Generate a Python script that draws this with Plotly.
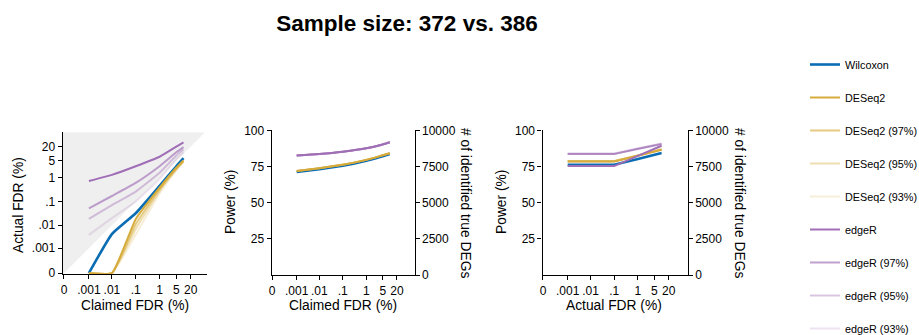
import numpy as np
import plotly.graph_objects as go

# ---------------- data (values in %) ----------------
claimed_fdr = [0.001, 0.01, 0.1, 1, 5, 10]

actual_wilcoxon = [0, 0.0042, 0.032, 0.45, 3.0, 6.5]
actual_deseq2 = [0, 0, 0.018, 0.38, 2.6, 5.3]
actual_deseq2_97 = [0, 0, 0.011, 0.33, 2.4, 5.0]
actual_deseq2_95 = [0, 0, 0.007, 0.28, 2.2, 4.8]
actual_deseq2_93 = [0, 0, 0.004, 0.22, 2.0, 4.6]
actual_edger = [0.72, 1.3, 3.0, 7.5, 20, 30]
actual_edger_97 = [0.052, 0.17, 0.6, 3.0, 11.5, 19]
actual_edger_95 = [0.0185, 0.07, 0.26, 1.6, 8.5, 15]
actual_edger_93 = [0.0039, 0.02, 0.1, 0.9, 6, 11.5]

power_wilcoxon = [71.3, 73.2, 75.5, 79.0, 82.2, 83.6]
power_deseq2 = [72.0, 73.9, 76.2, 79.6, 82.8, 84.2]
power_deseq2_97 = [72.0, 73.9, 76.2, 79.6, 82.8, 84.2]
power_deseq2_95 = [72.0, 73.9, 76.2, 79.6, 82.8, 84.2]
power_deseq2_93 = [72.0, 73.9, 76.2, 79.6, 82.8, 84.2]
power_edger = [82.6, 83.7, 85.3, 87.6, 90.3, 91.8]
power_edger_97 = [82.6, 83.7, 85.3, 87.6, 90.3, 91.8]
power_edger_95 = [82.6, 83.7, 85.3, 87.6, 90.3, 91.8]
power_edger_93 = [82.6, 83.7, 85.3, 87.6, 90.3, 91.8]

actual_fdr_x = [0.001, 0.01, 0.1, 1, 10]
pa_wilcoxon = [76.2, 76.2, 76.2, 80.2, 84.3]
pa_deseq2 = [78.5, 78.5, 78.5, 82.5, 86.6]
pa_deseq2_97 = [78.6, 78.6, 78.6, 82.6, 86.8]
pa_deseq2_95 = [78.7, 78.7, 78.7, 82.7, 87.0]
pa_deseq2_93 = [78.8, 78.8, 78.8, 82.8, 87.2]
pa_edger = [75.3, 75.3, 75.3, 82.4, 89.4]
pa_edger_97 = [83.6, 83.6, 83.6, 87.2, 90.5]
pa_edger_95 = [83.8, 83.8, 83.8, 87.4, 90.8]
pa_edger_93 = [84.0, 84.0, 84.0, 87.6, 91.0]

fdr_tick_values = [0, 0.001, 0.01, 0.1, 1, 5, 20]
fdr_tick_labels = ["0", ".001", ".01", ".1", "1", "5", "20"]
power_ticks = [25, 50, 75, 100]
deg_ticks = [0, 2500, 5000, 7500, 10000]

method_names = ["Wilcoxon", "DESeq2", "DESeq2 (97%)", "DESeq2 (95%)", "DESeq2 (93%)",
                "edgeR", "edgeR (97%)", "edgeR (95%)", "edgeR (93%)"]

# ---------------- styling ----------------
W, H = 919, 335
FONT = "Liberation Sans, Arial, Helvetica, sans-serif"
BLUE = (10, 109, 180)
GOLD = (214, 172, 60)
PURPLE = (160, 110, 182)

def rgba(c, a):
    return "rgba(%d,%d,%d,%.2f)" % (c[0], c[1], c[2], a)

styles = [
    (rgba(BLUE, 1.0), 2.6),
    (rgba(GOLD, 1.0), 2.0),
    (rgba(GOLD, 0.65), 2.0),
    (rgba(GOLD, 0.40), 2.0),
    (rgba(GOLD, 0.20), 2.0),
    (rgba(PURPLE, 1.0), 2.0),
    (rgba(PURPLE, 0.65), 2.0),
    (rgba(PURPLE, 0.40), 2.0),
    (rgba(PURPLE, 0.20), 2.0),
]

OFFSET = 0.0001  # pseudo-count of the log-like FDR scale


def tr(v):
    return np.log10(np.asarray(v, dtype=float) + OFFSET)


def fx(p):
    return p / W


def fy(p):
    return 1 - p / H


panel1 = [actual_wilcoxon, actual_deseq2, actual_deseq2_97, actual_deseq2_95, actual_deseq2_93,
          actual_edger, actual_edger_97, actual_edger_95, actual_edger_93]
panel2 = [power_wilcoxon, power_deseq2, power_deseq2_97, power_deseq2_95, power_deseq2_93,
          power_edger, power_edger_97, power_edger_95, power_edger_93]
panel3 = [pa_wilcoxon, pa_deseq2, pa_deseq2_97, pa_deseq2_95, pa_deseq2_93,
          pa_edger, pa_edger_97, pa_edger_95, pa_edger_93]

X1_RANGE = [-4.054, 1.97]
Y1_RANGE = [-4.05, 1.90]

fig = go.Figure()

# grey region where actual FDR exceeds claimed FDR (above the diagonal)
fig.add_trace(go.Scatter(
    x=[X1_RANGE[0], X1_RANGE[0], Y1_RANGE[1], X1_RANGE[0]],
    y=[X1_RANGE[0], Y1_RANGE[1], Y1_RANGE[1], X1_RANGE[0]],
    mode="lines", fill="toself", fillcolor="#EFEFEF",
    line=dict(width=0, color="#EFEFEF"), hoverinfo="skip", showlegend=False,
    xaxis="x", yaxis="y"))

for i, name in enumerate(method_names):
    color, width = styles[i]
    fig.add_trace(go.Scatter(
        x=tr(claimed_fdr), y=tr(panel1[i]), mode="lines", name=name,
        line=dict(color=color, width=width, shape="spline", smoothing=0.4),
        legendgroup=name, showlegend=True, xaxis="x", yaxis="y"))
    fig.add_trace(go.Scatter(
        x=tr(claimed_fdr), y=panel2[i], mode="lines", name=name,
        line=dict(color=color, width=width, shape="spline", smoothing=0.6),
        legendgroup=name, showlegend=False, xaxis="x2", yaxis="y2"))
    fig.add_trace(go.Scatter(
        x=tr(actual_fdr_x), y=panel3[i], mode="lines", name=name,
        line=dict(color=color, width=width),
        legendgroup=name, showlegend=False, xaxis="x3", yaxis="y3"))

# invisible anchors so the secondary (# of DEGs) axes are drawn
for xa, ya in (("x2", "y4"), ("x3", "y5")):
    fig.add_trace(go.Scatter(x=tr([0.001]), y=[deg_ticks[0]], mode="markers",
                             marker=dict(opacity=0, size=1), hoverinfo="skip",
                             showlegend=False, xaxis=xa, yaxis=ya))

axis_common = dict(showline=True, linecolor="black", linewidth=1.2, ticks="outside",
                   ticklen=4, tickwidth=1.2, tickcolor="black", showgrid=False,
                   zeroline=False, tickfont=dict(size=12, color="black", family=FONT))

fdr_axis = dict(tickmode="array", tickvals=tr(fdr_tick_values).tolist(), ticktext=fdr_tick_labels)
deg_axis = dict(tickmode="array", tickvals=deg_ticks, ticktext=[str(v) for v in deg_ticks])

fig.update_layout(
    width=W, height=H,
    margin=dict(l=0, r=0, t=0, b=0, autoexpand=False),
    paper_bgcolor="white", plot_bgcolor="white",
    font=dict(family=FONT, color="black"),
    title=dict(text="<b>Sample size: 372 vs. 386</b>", x=407 / W, xanchor="center",
               y=fy(23), yanchor="middle", yref="container",
               font=dict(size=22.5, family=FONT, color="black")),
    xaxis=dict(domain=[fx(62.7), fx(206.7)], anchor="y", range=X1_RANGE, **fdr_axis, **axis_common),
    yaxis=dict(domain=[fy(274.3), fy(132.3)], anchor="x", range=Y1_RANGE, **fdr_axis, **axis_common),
    xaxis2=dict(domain=[fx(271.7), fx(414.5)], anchor="y2", range=[-4.02, 2.05], **fdr_axis, **axis_common),
    yaxis2=dict(domain=[fy(275), fy(130.4)], anchor="x2", range=[0, 100],
                tickmode="array", tickvals=power_ticks, **axis_common),
    yaxis4=dict(overlaying="y2", side="right", anchor="x2", range=[0, 10000], **deg_axis, **axis_common),
    xaxis3=dict(domain=[fx(542.5), fx(687.7)], anchor="y3", range=[-4.02, 2.1], **fdr_axis, **axis_common),
    yaxis3=dict(domain=[fy(275), fy(130.4)], anchor="x3", range=[0, 100],
                tickmode="array", tickvals=power_ticks, **axis_common),
    yaxis5=dict(overlaying="y3", side="right", anchor="x3", range=[0, 10000], **deg_axis, **axis_common),
    legend=dict(x=fx(805), xanchor="left", y=fy(50), yanchor="top", yref="paper",
                traceorder="grouped", tracegroupgap=14,
                font=dict(size=10.8, family=FONT, color="black"),
                bgcolor="rgba(0,0,0,0)"),
)

title_font = dict(size=13.8, family=FONT, color="black")
annots = [
    ("Actual FDR (%)", 18, 205, -90),
    ("Claimed FDR (%)", 135, 305, 0),
    ("Power (%)", 230, 202, -90),
    ("Claimed FDR (%)", 343, 305, 0),
    ("# of identified true DEGs", 466, 203, 90),
    ("Power (%)", 501, 202, -90),
    ("Actual FDR (%)", 614, 305, 0),
    ("# of identified true DEGs", 740, 203, 90),
]
for text, ax_, ay_, ang in annots:
    fig.add_annotation(text=text, x=fx(ax_), y=fy(ay_), xref="paper", yref="paper",
                       xanchor="center", yanchor="middle", showarrow=False,
                       textangle=ang, font=title_font)

fig.write_html("out.html", config={"displayModeBar": False},
               post_script="document.body.style.margin='0px';")
